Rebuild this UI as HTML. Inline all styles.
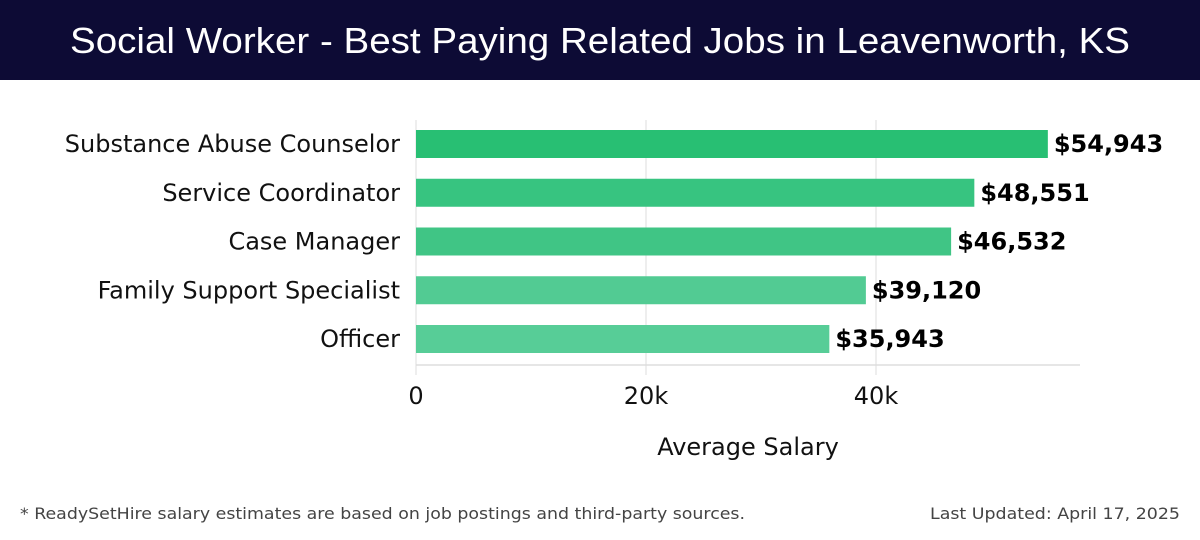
<!DOCTYPE html>
<html><head><meta charset="utf-8"><style>
html,body{margin:0;padding:0;background:#fff;}
svg{display:block;font-family:"DejaVu Sans","Liberation Sans",sans-serif;}
</style></head><body>
<svg id="c" width="1200" height="540" viewBox="0 0 1200 540">
<rect x="0" y="0" width="1200" height="80" fill="#0d0b35"/>
<text x="600" y="53" text-anchor="middle" fill="#fff" font-size="36" font-weight="300" font-family="Liberation Sans, sans-serif" textLength="1060" lengthAdjust="spacingAndGlyphs">Social Worker - Best Paying Related Jobs in Leavenworth, KS</text>
<g id="grid"></g>
<g id="bars"></g>
<g id="axis"></g>
<text x="748" y="455" text-anchor="middle" font-size="24" fill="#111">Average Salary</text>
<text x="20" y="519" font-size="16" fill="#444" textLength="725" lengthAdjust="spacingAndGlyphs">* ReadySetHire salary estimates are based on job postings and third-party sources.</text>
<text x="1180" y="519" text-anchor="end" font-size="16" fill="#444" textLength="250" lengthAdjust="spacingAndGlyphs">Last Updated: April 17, 2025</text>
</svg>
<script>
const categories=["Substance Abuse Counselor","Service Coordinator","Case Manager","Family Support Specialist","Officer"];
const values=[54943,48551,46532,39120,35943];
const valueLabels=["$54,943","$48,551","$46,532","$39,120","$35,943"];
const ticks=[0,20000,40000];
const tickLabels=["0","20k","40k"];
const colors=["#28bf73","#37c480","#40c585","#52cb93","#57cd97"];
const NS="http://www.w3.org/2000/svg";
const X0=416, PXPER=230/20000, PLOT_TOP=120, BAND=48.75;
const xs=v=>X0+v*PXPER;
const yc=i=>PLOT_TOP+BAND*i+24;
function mk(t,a,p){const e=document.createElementNS(NS,t);for(const k in a)e.setAttribute(k,a[k]);p.appendChild(e);return e;}
const grid=document.getElementById('grid'),bars=document.getElementById('bars'),axis=document.getElementById('axis');
ticks.forEach((t,i)=>{
 const g=mk('line',{x1:xs(t),x2:xs(t),y1:PLOT_TOP,y2:375,stroke:'#ddd','stroke-width':1},grid);
 
 
 const l=mk('text',{x:xs(t),y:404,'text-anchor':'middle','font-size':24,fill:'#111'},axis);
 l.textContent=tickLabels[i];
 
 
});
const al=mk('line',{x1:X0,x2:1080,y1:365,y2:365,stroke:'#ddd','stroke-width':1.5},axis);


categories.forEach((c,i)=>{
 const y=yc(i);
 const r=mk('rect',{x:X0,y:y-14,width:xs(values[i])-X0,height:28,fill:colors[i]},bars);
 
 
 const cl=mk('text',{x:400,y:y+8,'text-anchor':'end','font-size':24,fill:'#111'},bars);
 cl.textContent=c;
 
 
 const vl=mk('text',{x:xs(values[i])+6,y:y+8,'font-size':24,'font-weight':'bold',fill:'#000'},bars);
 vl.textContent=valueLabels[i];
 
 
});
</script>
</body></html>
